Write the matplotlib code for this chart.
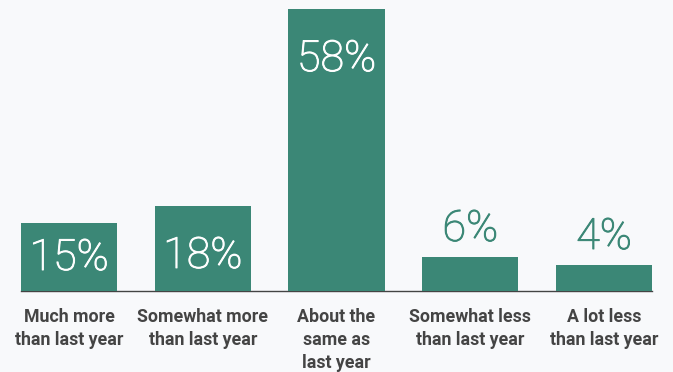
import matplotlib
matplotlib.use("Agg")
import matplotlib.pyplot as plt
import matplotlib.patheffects as pe

categories = ["Much more\nthan last year", "Somewhat more\nthan last year",
              "About the\nsame as\nlast year", "Somewhat less\nthan last year",
              "A lot less\nthan last year"]
values = [14.0, 17.5, 58.0, 7.0, 5.35]
labels = ["15%", "18%", "58%", "6%", "4%"]
inside = [True, True, True, False, False]

BG = "#f8f9fb"
BAR = "#3b8776"
TXT = "#444444"

fig = plt.figure(figsize=(6.73, 3.72), dpi=100, facecolor=BG)
ax = fig.add_axes([0, 0, 1, 1])
ax.set_facecolor(BG)
x = list(range(len(categories)))
ax.set_xlim(-0.516, 4.516)
ax.set_ylim(-16.67, 59.88)
ax.axhline(0, xmin=21/673, xmax=652/673, color="#444444", lw=1.0, zorder=1)
ax.bar(x, values, width=0.718, color=BAR, zorder=2)

pt = 72 / 100.0  # points per pixel
for i, (v, lab, ins) in enumerate(zip(values, labels, inside)):
    col = "white" if ins else BAR
    if ins:
        top_px = v * 4.86
        c = max(top_px - 46, 37)
        xy = (i, 0)
    else:
        c = 32
        xy = (i, v)
    ax.annotate(lab, xy=xy, xytext=(0, c * pt), textcoords="offset points",
                ha="center", va="center_baseline", fontsize=31, family="Roboto",
                fontweight=100, color=col, zorder=3,
                path_effects=[pe.withStroke(linewidth=0.7, foreground=col)])

for i, cat in enumerate(categories):
    ax.annotate(cat, xy=(i, 0), xytext=(0, -17.5 * pt), textcoords="offset points",
                ha="center", va="top", fontsize=12.8, family="Roboto",
                fontweight="bold", color=TXT, linespacing=1.33)

ax.axis("off")
fig.savefig("out.png", dpi=100, facecolor=BG)
